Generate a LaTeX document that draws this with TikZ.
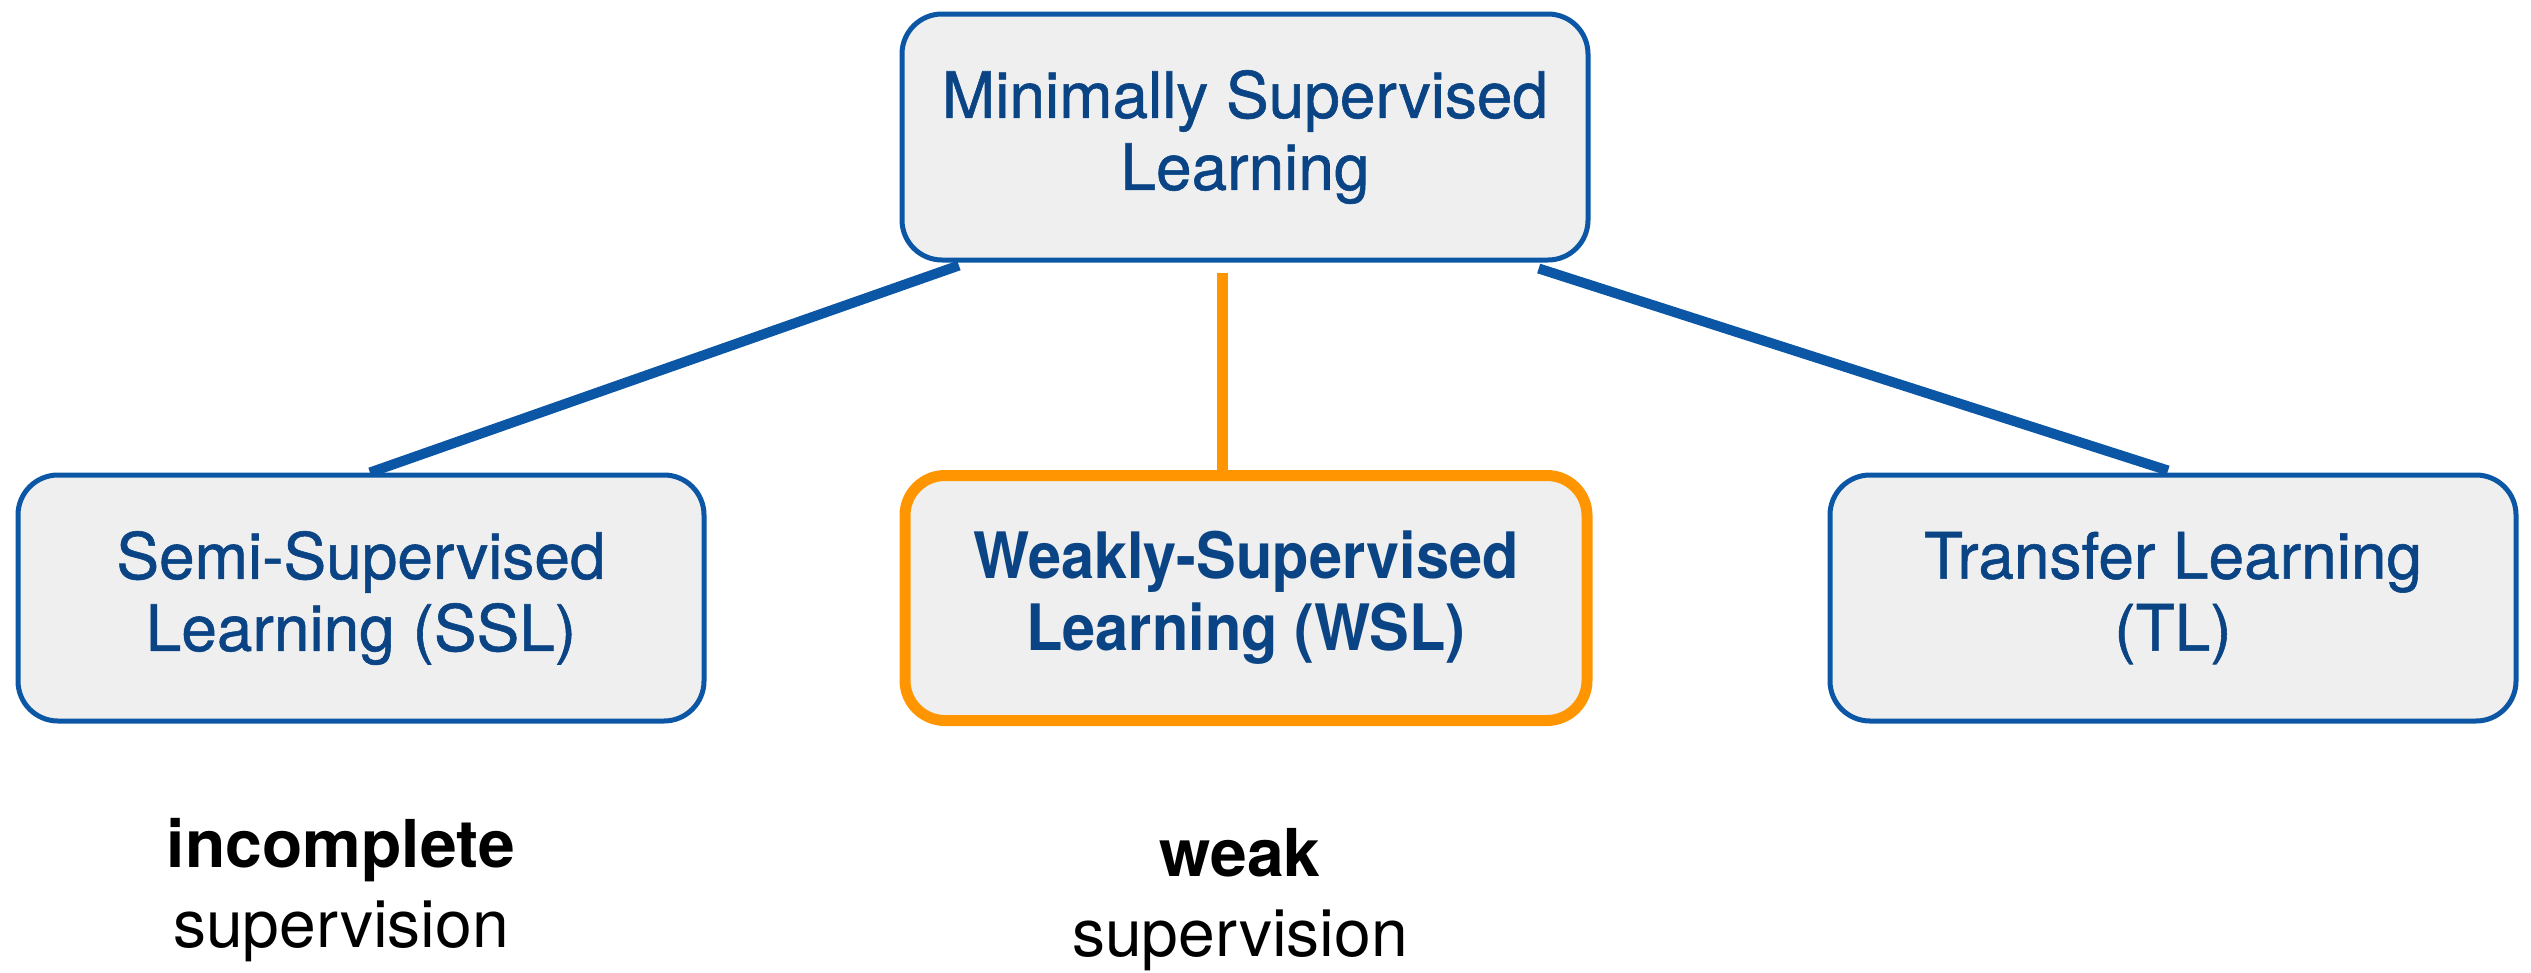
\documentclass[tikz,border=0pt]{standalone}
\usepackage{fontspec}
\setmainfont{TeX Gyre Heros}
\newfontfamily\boxregular[FakeBold=0.9]{TeX Gyre Heros}
\newfontfamily\narrowbold[FakeStretch=0.93]{TeX Gyre Heros Bold}
\usetikzlibrary{calc}

\definecolor{boxfill}{HTML}{EFEFEF}
\definecolor{boxline}{HTML}{0B57A5}
\definecolor{boxtext}{HTML}{0A4484}
\definecolor{wslorange}{HTML}{FF9500}

\tikzset{
  learnbox/.style={draw=boxline, fill=boxfill, line width=5pt, rounded corners=40pt,
    minimum width=686pt, minimum height=246pt, align=center, text=boxtext,
    font=\fontsize{64}{72}\boxregular},
  focusbox/.style={learnbox, draw=wslorange, line width=11pt, minimum width=682pt,
    minimum height=245pt, font=\fontsize{64}{72}\narrowbold},
  bluelink/.style={draw=boxline, line width=10pt},
  orangelink/.style={draw=wslorange, line width=11pt},
  note/.style={align=center, font=\fontsize{66}{80}\selectfont}
}

\begin{document}
\begin{tikzpicture}[x=1pt, y=-1pt]
  \useasboundingbox (0,0) rectangle (2531,972);

  % hierarchy boxes
  \node[learnbox] (msl) at (1245,137) {Minimally Supervised\\Learning};
  \node[learnbox] (ssl) at (361,598) {Semi-Supervised\\Learning (SSL)};
  \node[focusbox] (wsl) at (1246,598) {Weakly-Supervised\\Learning (WSL)};
  \node[learnbox] (tl)  at (2173,598) {Transfer Learning\\(TL)};

  % links from the root to its three branches
  \draw[bluelink] ($(msl.south west)!0.086!(msl.south east)+(0,3)$) -- ($(ssl.north)+(9,0)$);
  \coordinate (wsltop) at ($(msl.south)+(-23,10)$);
  \draw[orangelink] (wsltop) -- (wsltop |- wsl.north);
  \draw[bluelink] ($(msl.south west)!0.925!(msl.south east)+(0,6)$) -- ($(tl.north)+(-5,-2)$);

  % kinds of supervision
  \node[note] (incomplete) at (341,890) {\textbf{incomplete}\\supervision};
  \node[note] (weak) at (1240,900) {\textbf{weak}\\supervision};
\end{tikzpicture}
\end{document}
